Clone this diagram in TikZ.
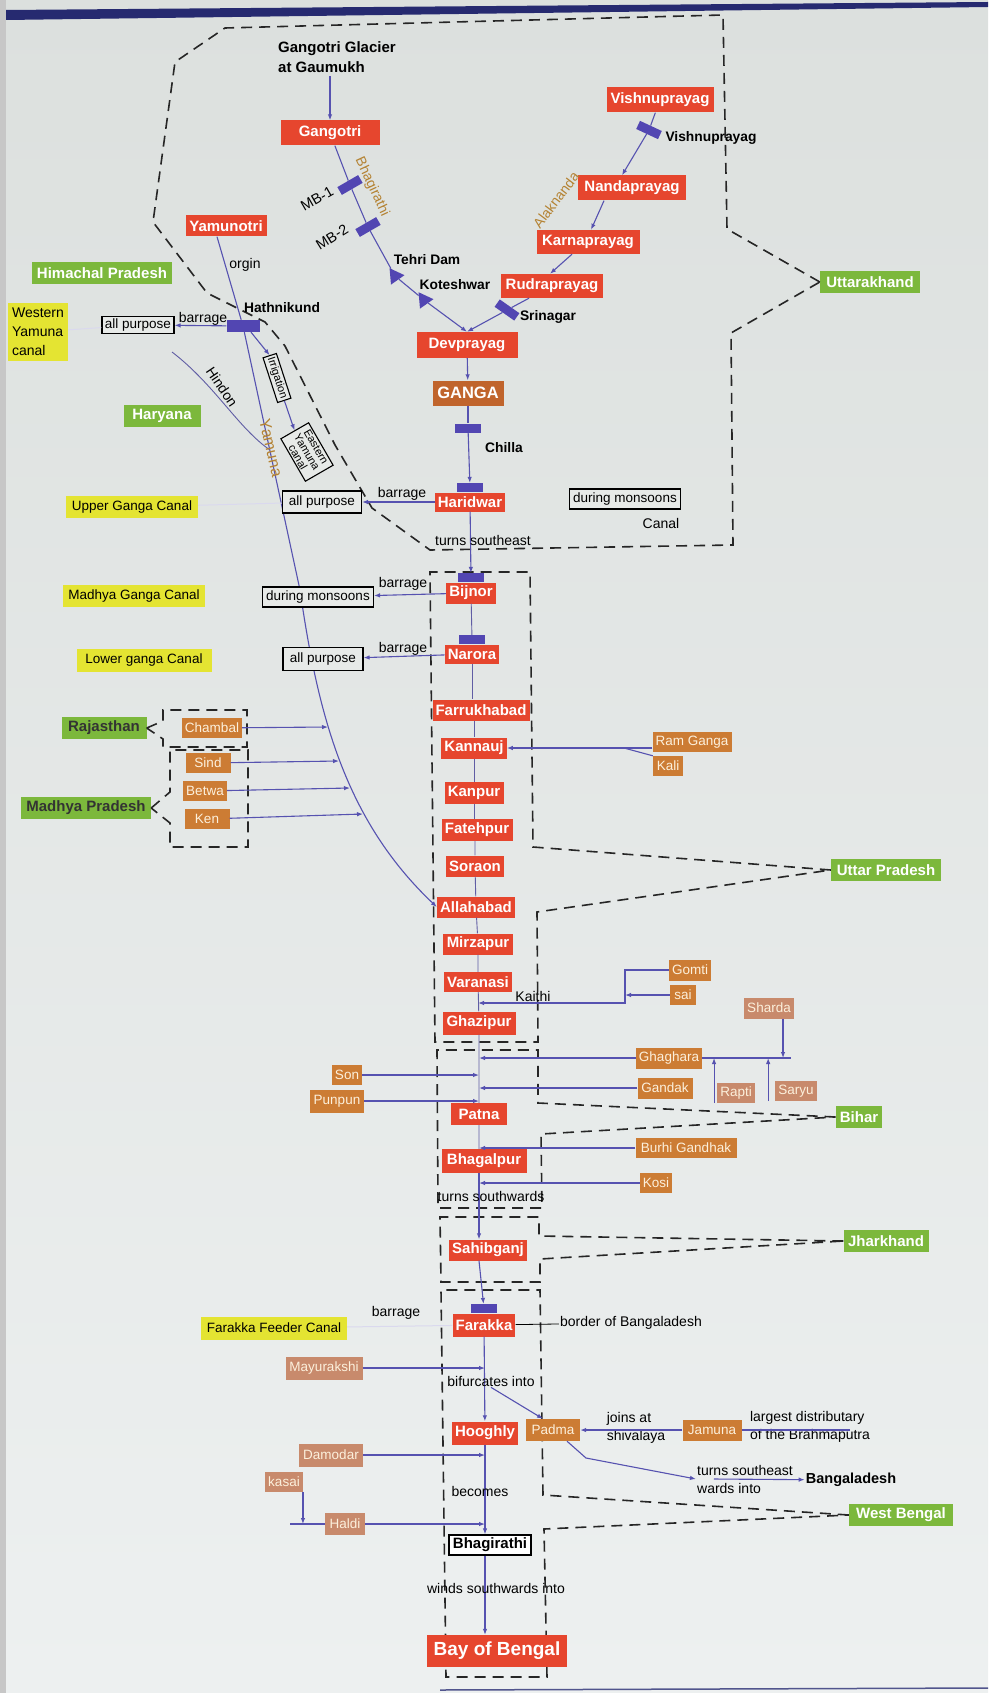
\documentclass[tikz,border=0pt]{standalone}
\usepackage{fontspec}
\setmainfont{Liberation Sans}
\usepackage{tikz}
\usetikzlibrary{arrows.meta,shapes.geometric}

\definecolor{bgtop}{RGB}{220,224,222}
\definecolor{bgbot}{RGB}{237,240,240}
\definecolor{bgbox}{RGB}{231,234,232}
\definecolor{navy}{RGB}{38,42,112}
\definecolor{cityred}{RGB}{230,70,46}
\definecolor{gangabrown}{RGB}{192,100,44}
\definecolor{tribbrown}{RGB}{204,124,52}
\definecolor{triblight}{RGB}{200,138,108}
\definecolor{stategreen}{RGB}{124,184,60}
\definecolor{canalyellow}{RGB}{228,228,50}
\definecolor{riverblue}{RGB}{86,82,176}
\definecolor{damblue}{RGB}{82,70,178}
\definecolor{namebrown}{RGB}{180,130,50}
\definecolor{cream}{RGB}{252,240,220}

\begin{document}
\begin{tikzpicture}[x=1pt,y=-1pt,>={Latex[length=6pt,width=4.5pt]}]
\tikzstyle{city}=[fill=cityred,text=white,font=\fontsize{15}{17}\selectfont\bfseries,inner xsep=3pt,inner ysep=0pt,minimum height=21pt]
\tikzstyle{trib}=[fill=tribbrown,text=cream,font=\fontsize{13.5}{15}\selectfont,inner xsep=3pt,inner ysep=0pt,minimum height=20pt]
\tikzstyle{tribl}=[trib,fill=triblight]
\tikzstyle{statebox}=[fill=stategreen,text=white,font=\fontsize{15}{17}\selectfont\bfseries,inner xsep=4pt,inner ysep=0pt,minimum height=22pt]
\tikzstyle{statedk}=[statebox,text=black!80]
\tikzstyle{canalbox}=[fill=canalyellow,text=black,font=\fontsize{13.5}{15}\selectfont,inner xsep=4pt,inner ysep=0pt,minimum height=22pt]
\tikzstyle{boxed}=[draw=black,line width=1.1pt,fill=bgbox,font=\fontsize{13.5}{15}\selectfont,inner xsep=3pt,inner ysep=0pt,minimum height=19pt]
\tikzstyle{lbl}=[font=\fontsize{14}{18}\selectfont,inner sep=1pt]
\tikzstyle{blbl}=[font=\fontsize{13.8}{15}\selectfont\bfseries,inner sep=1pt]
\tikzstyle{namelbl}=[text=namebrown,font=\fontsize{14}{15}\selectfont,inner sep=1pt]
\tikzstyle{dam}=[fill=damblue,minimum width=26pt,minimum height=9pt,inner sep=0pt]
\tikzstyle{tri}=[regular polygon,regular polygon sides=3,fill=damblue,minimum size=19pt,inner sep=0pt]
\tikzstyle{river}=[riverblue,line width=1.1pt]
\tikzstyle{stem}=[riverblue!75!gray,line width=0.9pt]
\tikzstyle{faint}=[riverblue!22,line width=1pt]
\tikzstyle{stateline}=[black!85,line width=1.6pt,dash pattern=on 11pt off 7pt]

\shade[top color=bgtop,bottom color=bgbot] (0,0) rectangle (988,1693);
\useasboundingbox (0,0) rectangle (988,1693);
\fill[black!22] (0,0) rectangle (6,1693);
\fill[navy] (6,10) -- (988,2) -- (988,7) -- (6,20) -- cycle;
\draw[navy!80,line width=1.5pt] (440,1690) -- (988,1688);

\node[statebox,minimum width=100pt] (uttarakhand) at (870,282) {Uttarakhand};
\node[statebox,minimum width=140pt] (himachal) at (102,273) {Himachal Pradesh};
\node[statebox,minimum width=77pt] (haryana) at (162,416) {Haryana};
\node[statedk,minimum width=85pt] (rajasthan) at (104,728) {Rajasthan};
\node[statedk,minimum width=130pt] (mp) at (86,808) {Madhya Pradesh};
\node[statebox,minimum width=110pt] (up) at (886,870) {Uttar Pradesh};
\node[statebox,minimum width=44pt] (bihar) at (859,1117) {Bihar};
\node[statebox,minimum width=85pt] (jharkhand) at (886,1241) {Jharkhand};
\node[statebox,minimum width=104pt] (wb) at (901,1515) {West Bengal};

\draw[stateline] (uttarakhand.west) -- (727,229) -- (723,15) -- (225,28) -- (175,62) -- (153,222) -- (207,293) -- (235,307) -- (265,322) -- (285,346) -- (335,445) -- (372,508) -- (430,550) -- (733,545) -- (731,333) -- cycle;
\draw[stateline] (up.west) -- (533,847) -- (530,572) -- (430,572) -- (435,1042) -- (538,1042) -- (537,912) -- cycle;
\draw[stateline] (bihar.west) -- (538,1103) -- (538,1050) -- (437,1050) -- (438,1208) -- (542,1208) -- (541,1134) -- cycle;
\draw[stateline] (jharkhand.west) -- (539,1236) -- (539,1217) -- (440,1217) -- (441,1282) -- (540,1282) -- (540,1259) -- cycle;
\draw[stateline] (wb.west) -- (543,1495) -- (540,1290) -- (441,1290) -- (446,1677) -- (547,1677) -- (544,1529) -- cycle;
\draw[stateline] (rajasthan.east) -- (163,721) -- (163,710) -- (247,710) -- (247,747) -- (163,747) -- (163,739) -- cycle;
\draw[stateline] (mp.east) -- (170,792) -- (170,750) -- (248,750) -- (248,847) -- (170,847) -- (170,823) -- cycle;

\node[font=\fontsize{15}{20}\selectfont\bfseries,align=left] (glacier) at (337,57) {Gangotri Glacier\\at Gaumukh};
\node[city,minimum width=99pt,minimum height=25pt] (gangotri) at (330,133) {Gangotri};
\node[city,minimum width=81pt] (yamunotri) at (226,226) {Yamunotri};
\node[city,minimum width=107pt,minimum height=25pt] (vishnu) at (660,100) {Vishnuprayag};
\node[city,minimum width=108pt,minimum height=25pt] (nanda) at (632,188) {Nandaprayag};
\node[city,minimum width=103pt,minimum height=24pt] (karna) at (588,242) {Karnaprayag};
\node[city,minimum width=102pt,minimum height=24pt] (rudra) at (552,286) {Rudraprayag};
\node[city,minimum width=101pt,minimum height=26pt] (dev) at (467,345) {Devprayag};
\node[city,fill=gangabrown,font=\fontsize{16.5}{18}\selectfont\bfseries,minimum width=71pt,minimum height=25pt] (ganga) at (468,393) {GANGA};
\node[city,minimum width=70pt,minimum height=19pt] (haridwar) at (470,502) {Haridwar};
\node[city,minimum width=50pt] (bijnor) at (471,593) {Bijnor};
\node[city,minimum width=54pt,minimum height=19pt] (narora) at (472,654) {Narora};
\node[city,minimum width=97pt] (farrukh) at (481,710) {Farrukhabad};
\node[city,minimum width=64pt] (kannauj) at (474,748) {Kannauj};
\node[city,minimum width=59pt,minimum height=22pt] (kanpur) at (474,793) {Kanpur};
\node[city,minimum width=71pt,minimum height=22pt] (fatehpur) at (477,830) {Fatehpur};
\node[city,minimum width=57pt] (soraon) at (475,866) {Soraon};
\node[city,minimum width=78pt] (allahabad) at (476,907) {Allahabad};
\node[city,minimum width=70pt] (mirzapur) at (478,944) {Mirzapur};
\node[city,minimum width=68pt,minimum height=20pt] (varanasi) at (478,982) {Varanasi};
\node[city,minimum width=73pt,minimum height=23pt] (ghazipur) at (479,1023) {Ghazipur};
\node[city,minimum width=56pt,minimum height=22pt] (patna) at (479,1114) {Patna};
\node[city,minimum width=85pt,minimum height=24pt] (bhagalpur) at (484,1161) {Bhagalpur};
\node[city,minimum width=78pt] (sahibganj) at (488,1250) {Sahibganj};
\node[city,minimum width=61pt,minimum height=23pt] (farakka) at (484,1325) {Farakka};
\node[city,minimum width=66pt,minimum height=23pt] (hooghly) at (485,1433) {Hooghly};
\node[draw=black,line width=1.3pt,fill=white,font=\fontsize{15}{17}\selectfont\bfseries,inner xsep=3pt,inner ysep=0pt,minimum width=82pt,minimum height=20pt] (bhagirathi) at (490,1545) {Bhagirathi};
\node[city,font=\fontsize{19}{21}\selectfont\bfseries,minimum width=140pt,minimum height=32pt] (bay) at (497,1651) {Bay of Bengal};

\node[trib,minimum width=79pt] (ramganga) at (692,742) {Ram Ganga};
\node[trib,minimum width=30pt] (kali) at (668,766) {Kali};
\node[trib,minimum width=41pt,minimum height=21pt] (gomti) at (690,970) {Gomti};
\node[trib,minimum width=26pt] (sai) at (683,995) {sai};
\node[tribl,minimum width=50pt,minimum height=21pt] (sharda) at (769,1008) {Sharda};
\node[trib,minimum width=66pt,minimum height=21pt] (ghaghara) at (669,1058) {Ghaghara};
\node[trib,minimum width=55pt,minimum height=21pt] (gandak) at (665,1088) {Gandak};
\node[tribl,minimum width=36pt] (rapti) at (736,1093) {Rapti};
\node[tribl,minimum width=41pt] (saryu) at (796,1091) {Saryu};
\node[trib,minimum width=30pt] (son) at (347,1075) {Son};
\node[trib,minimum width=54pt,minimum height=23pt] (punpun) at (337,1101) {Punpun};
\node[trib,minimum width=101pt] (burhi) at (686,1148) {Burhi Gandhak};
\node[trib,minimum width=32pt] (kosi) at (656,1183) {Kosi};
\node[tribl,minimum width=77pt,minimum height=23pt] (mayur) at (324,1368) {Mayurakshi};
\node[trib,minimum width=54pt,minimum height=22pt] (padma) at (553,1430) {Padma};
\node[trib,minimum width=59pt,minimum height=21pt] (jamuna) at (712,1430) {Jamuna};
\node[tribl,minimum width=64pt,minimum height=23pt] (damodar) at (331,1455) {Damodar};
\node[tribl,minimum width=36pt] (kasai) at (284,1482) {kasai};
\node[tribl,minimum width=40pt,minimum height=22pt] (haldi) at (345,1524) {Haldi};
\node[trib,minimum width=59pt] (chambal) at (212,728) {Chambal};
\node[trib,minimum width=45pt] (sind) at (208,763) {Sind};
\node[trib,minimum width=43pt] (betwa) at (205,791) {Betwa};
\node[trib,minimum width=45pt] (ken) at (207,819) {Ken};

\node[canalbox,align=left,font=\fontsize{14}{19}\selectfont,minimum width=60pt,minimum height=58pt,inner xsep=3pt] (wycanal) at (38,332) {Western\\Yamuna\\canal};
\node[canalbox,minimum width=132pt] (ugc) at (132,507) {Upper Ganga Canal};
\node[canalbox,minimum width=142pt] (mgc) at (134,596) {Madhya Ganga Canal};
\node[canalbox,minimum width=135pt,minimum height=23pt] (lgc) at (144,660) {Lower ganga Canal};
\node[canalbox,minimum width=146pt,minimum height=23pt] (ffc) at (274,1328) {Farakka Feeder Canal};

\node[dam,minimum width=33pt,minimum height=12pt] (hkdam) at (243,326) {};
\coordinate (ybend) at (300,590);
\draw[river] ([xshift=-9pt]yamunotri.south) -- (hkdam);
\draw[river,->] (hkdam) -- (ybend) .. controls (318,715) and (345,820) .. (allahabad.west);
\coordinate (hindonsrc) at (172,352);
\coordinate (hindonj) at (270,450);
\draw[stem] (hindonsrc) .. controls (215,385) and (238,428) .. (hindonj);

\node[boxed,minimum width=70pt,minimum height=17pt] (ap1) at (138,325) {all purpose};
\node[boxed,minimum width=79pt,minimum height=22pt] (ap2) at (322,502) {all purpose};
\node[boxed,minimum width=111pt,minimum height=20pt] (dm1) at (318,597) {during monsoons};
\node[boxed,minimum width=80pt,minimum height=23pt] (ap3) at (323,659) {all purpose};
\node[boxed,minimum width=111pt,minimum height=20pt] (dm2) at (625,499) {during monsoons};
\node[boxed,rotate=-72,font=\fontsize{11}{12}\selectfont,minimum width=47pt,minimum height=14pt,inner xsep=1pt] (irrig) at (277,378) {Irrigation};
\node[boxed,rotate=-60,align=center,font=\fontsize{11}{10.5}\selectfont,minimum width=49pt,minimum height=32pt,inner xsep=1pt] (eyc) at (307,452) {Eastern\\Yamuna\\canal};

\node[dam,rotate=30,minimum width=24pt] (mb1) at (350,185) {};
\node[dam,rotate=30,minimum width=24pt] (mb2) at (368,227) {};
\node[tri,rotate=35] (tehri) at (395,276) {};
\node[tri,rotate=35] (kotesh) at (424,300) {};
\node[dam,rotate=-25,minimum width=24pt] (vdam) at (649,130) {};
\node[dam,rotate=-35,minimum width=24pt] (sdam) at (507,310) {};
\node[dam] (chdam) at (468,428) {};
\node[dam,anchor=south] (hwdam) at (haridwar.north) {};
\node[dam,anchor=south] (bjdam) at (bijnor.north) {};
\node[dam,anchor=south] (nrdam) at (narora.north) {};
\node[dam,anchor=south] (fkdam) at (farakka.north) {};

\draw[river,->] (glacier.south -| gangotri.north) -- (gangotri.north);
\draw[river] (gangotri) -- (mb1) -- (mb2) -- (tehri) -- (kotesh);
\draw[river,->] (kotesh) -- (dev.north);
\draw[river] (vishnu) -- (vdam);
\draw[river,->] (vdam) -- ([xshift=-10pt]nanda.north);
\draw[river,->] ([xshift=-28pt]nanda.south) -- ([xshift=3pt]karna.north);
\draw[river,->] ([xshift=-16pt]karna.south) -- ([xshift=-2pt]rudra.north);
\draw[river] ([xshift=-23pt]rudra.south) -- (sdam);
\draw[river,->] (sdam) -- (dev.north);
\draw[river,->] (dev) -- (ganga);
\draw[river] (ganga) -- (chdam);
\draw[river,->] (chdam) -- (hwdam);
\draw[river,->] (haridwar) -- (bjdam);
\draw[stem] (bijnor) -- (nrdam);
\draw[stem] (narora) -- (narora |- farrukh.north);
\draw[stem] (kannauj |- farrukh.south) -- (kannauj) -- (kanpur) -- (kanpur |- fatehpur.north);
\draw[stem] (soraon |- fatehpur.south) -- (soraon) -- (allahabad) -- (mirzapur) -- (varanasi) -- (ghazipur) -- (patna) -- (patna |- bhagalpur.north);
\draw[river,->] (patna |- bhagalpur.south) -- (patna |- sahibganj.north);
\draw[river,->] (patna |- sahibganj.south) -- (fkdam);
\draw[river,->] (farakka) -- (hooghly);
\draw[river,->] (hooghly) -- (hooghly |- bhagirathi.north);
\draw[river,->] (hooghly |- bhagirathi.south) -- (hooghly |- bay.north);

\draw[river,->] (hkdam) -- (ap1);
\draw[river,->] ([xshift=8pt]hkdam.south) -- (irrig.west);
\draw[river,->] (irrig.east) -- (eyc.west);
\draw[faint] (wycanal) -- (ap1);
\draw[faint] (ugc) -- (ap2);
\draw[faint] (ffc) -- (farakka);
\draw[river,->] (haridwar) -- (ap2);
\draw[river,->] (bijnor) -- (dm1);
\draw[river,->] (narora) -- (ap3);

\coordinate (jch) at (328,727);
\coordinate (jsi) at (339,761);
\coordinate (jbe) at (350,788);
\coordinate (jke) at (363,814);
\draw[river,->] (chambal) -- (jch);
\draw[river,->] (sind) -- (jsi);
\draw[river,->] (betwa) -- (jbe);
\draw[river,->] (ken) -- (jke);

\coordinate (kalij) at (624,748);
\draw[river,->] (ramganga.west |- kannauj) -- (kannauj);
\draw[river] (kali.north west) -- (kalij);

\coordinate (gsj) at (625,1003);
\draw[river,->] (gomti.west) -| (gsj) -- (gsj -| varanasi);
\draw[river,->] (sai.west) -- (sai.west -| gsj);

\coordinate (ghend) at (791,1058);
\coordinate (shj) at (783,1058);
\coordinate (raptiup) at ([xshift=-3pt]rapti.south west);
\coordinate (saryuup) at ([xshift=-7pt]saryu.south west);
\draw[river] (ghaghara.east) -- (ghend);
\draw[river,->] (sharda.south -| shj) -- (shj);
\draw[river,->] (raptiup) -- (raptiup |- ghend);
\draw[river,->] (saryuup) -- (saryuup |- ghend);
\draw[river,->] (ghaghara) -- (ghaghara -| patna);
\draw[river,->] (gandak) -- (gandak -| patna);
\draw[river,->] (son) -- (son -| patna);
\draw[river,->] (punpun) -- (punpun -| patna);
\draw[river,->] (burhi) -- (burhi -| patna);
\draw[river,->] (kosi) -- (kosi -| patna);

\node[lbl] (bordertxt) at (631,1323) {border of Bangaladesh};
\node[lbl] (bifurc) at (491,1381) {bifurcates into};
\node[lbl,align=left] (joins) at (636,1428) {joins at\\shivalaya};
\node[lbl,align=left] (largest) at (810,1427) {largest distributary\\of the Brahmaputra};
\node[lbl,align=left] (tsw) at (745,1479) {turns southeast\\wards into};
\node[blbl,font=\fontsize{14.5}{16}\selectfont\bfseries] (bangla) at (851,1480) {Bangaladesh};

\draw[river,->] (mayur) -- (mayur -| hooghly);
\draw[black,line width=0.8pt] (farakka) -- (bordertxt);
\draw[river,->] (bifurc.south) -- ([xshift=-10pt]padma.north);
\draw[river,->] (jamuna) -- (padma);
\coordinate (brahma) at (850,1430);
\draw[river] (jamuna) -- (brahma);
\coordinate (pbend) at (586,1458);
\draw[river,->] ([xshift=14pt]padma.south) -- (pbend) -- (tsw.west);
\draw[river,->] ([xshift=18pt]tsw.west) -- (bangla);
\draw[river,->] (damodar) -- (damodar -| hooghly);
\draw[river,->] (kasai.south east) -- (kasai.south east |- haldi);
\coordinate (hst) at (290,1524);
\draw[river] (hst) -- (haldi);
\draw[river,->] (haldi) -- (haldi -| hooghly);

\node[lbl] (orgin) at (245,265) {orgin};
\node[blbl] (hathnikund) at (282,308) {Hathnikund};
\node[lbl] (barrage1) at (203,319) {barrage};
\node[lbl,rotate=-56] (hindon) at (222,387) {Hindon};
\node[namelbl,rotate=-77,font=\fontsize{16}{17}\selectfont] (yamunaname) at (271,448) {Yamuna};
\node[lbl,rotate=30,font=\fontsize{14.5}{15}\selectfont] (mb1lbl) at (317,199) {MB-1};
\node[lbl,rotate=32,font=\fontsize{14.5}{15}\selectfont] (mb2lbl) at (332,237) {MB-2};
\node[namelbl,rotate=-65] (bhagname) at (372,187) {Bhagirathi};
\node[blbl] (tehrilbl) at (427,260) {Tehri Dam};
\node[blbl] (koteshlbl) at (455,285) {Koteshwar};
\node[namelbl,rotate=53] (alakname) at (556,200) {Alaknanda};
\node[blbl] (vishnulbl) at (711,138) {Vishnuprayag};
\node[blbl] (srinagarlbl) at (548,317) {Srinagar};
\node[blbl] (chillalbl) at (504,448) {Chilla};
\node[lbl] (barrage2) at (402,494) {barrage};
\node[lbl] (canallbl) at (661,523) {Canal};
\node[lbl] (turnsse) at (483,540) {turns southeast};
\node[lbl] (barrage3) at (403,584) {barrage};
\node[lbl] (barrage4) at (403,649) {barrage};
\node[lbl] (kaithi) at (533,996) {Kaithi};
\node[lbl] (turnss) at (491,1196) {turns southwards};
\node[lbl] (barrage5) at (396,1313) {barrage};
\node[lbl] (becomes) at (480,1491) {becomes};
\node[lbl] (winds) at (496,1588) {winds southwards into};
\end{tikzpicture}
\end{document}
